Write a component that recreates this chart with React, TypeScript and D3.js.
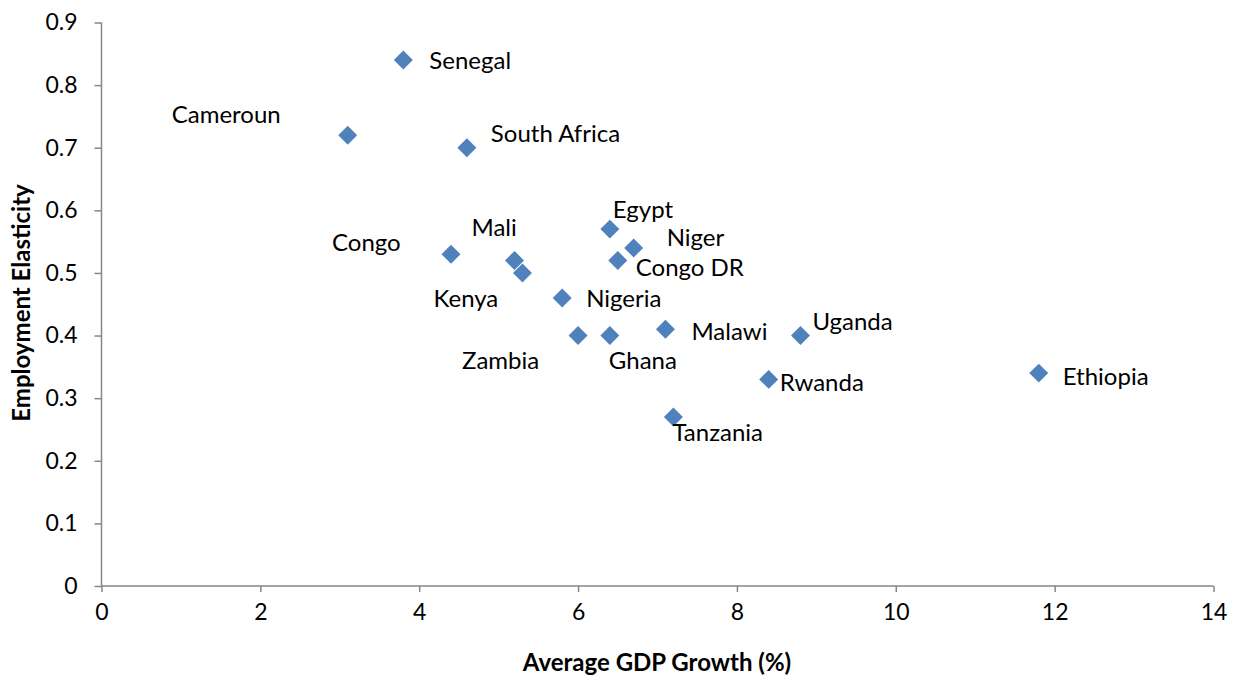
import React, { useEffect, useRef } from 'react'
import * as d3 from 'd3'

// data
const countries = ['Senegal', 'Cameroun', 'South Africa', 'Congo', 'Mali', 'Kenya', 'Nigeria', 'Zambia', 'Ghana', 'Egypt', 'Niger', 'Congo DR', 'Malawi', 'Uganda', 'Rwanda', 'Tanzania', 'Ethiopia']
const gdpGrowth = [3.8, 3.1, 4.6, 4.4, 5.2, 5.3, 5.8, 6.0, 6.4, 6.4, 6.7, 6.5, 7.1, 8.8, 8.4, 7.2, 11.8]
const elasticity = [0.84, 0.72, 0.70, 0.53, 0.52, 0.50, 0.46, 0.40, 0.40, 0.57, 0.54, 0.52, 0.41, 0.40, 0.33, 0.27, 0.34]
// label offsets from the marker (px)
const labelDx = [26, -176, 24, -119, -43, -89, 24, -116, -1, 3, 33, 18, 26, 12, 11, -1, 24]
const labelDy = [-1, -22, -15, -13, -34, 25, 0, 24, 24, -21, -11, 6, 1, -15, 2, 15, 2]

const xTicks = [0, 2, 4, 6, 8, 10, 12, 14]
const yTicks = [0, 0.1, 0.2, 0.3, 0.4, 0.5, 0.6, 0.7, 0.8, 0.9]

const FONT = 'Lato, "Open Sans", sans-serif'

export default function App() {
    const ref = useRef<SVGSVGElement>(null)

    useEffect(() => {
        const svg = d3.select(ref.current)
        svg.selectAll('*').remove()

        const margin = { left: 101.5, right: 29.5, top: 22.5, bottom: 91 }
        const width = 1243
        const height = 677

        const x = d3.scaleLinear().domain([0, 14]).range([margin.left, width - margin.right])
        const y = d3.scaleLinear().domain([0, 0.9]).range([height - margin.bottom, margin.top])

        const axisColor = '#868686'

        const gx = svg.append('g')
            .attr('transform', `translate(0,${y(0)})`)
            .call(d3.axisBottom(x).tickValues(xTicks).tickSize(6).tickPadding(12).tickFormat(d3.format('d')))
        const gy = svg.append('g')
            .attr('transform', `translate(${x(0)},0)`)
            .call(d3.axisLeft(y).tickValues(yTicks).tickSize(7).tickPadding(17).tickFormat(d => d === 0 ? '0' : d3.format('.1f')(d as number)))

        for (const g of [gx, gy]) {
            g.select('.domain').attr('stroke', axisColor).attr('stroke-width', 1.5)
            g.selectAll('.tick line').attr('stroke', axisColor).attr('stroke-width', 1.5)
            g.selectAll('.tick text')
                .attr('fill', '#000')
                .style('font-family', FONT)
                .style('font-size', '23px')
        }
        gy.select('.domain').attr('d', `M0,${y(0)}V${y(0.9)}`)
        gx.select('.domain').attr('d', `M${x(0)},0H${x(14)}`)

        const symbol = d3.symbol().type(d3.symbolSquare).size(180)

        const pts = countries.map((c, i) => ({ name: c, gx: gdpGrowth[i], el: elasticity[i], dx: labelDx[i], dy: labelDy[i] }))

        svg.append('g').selectAll('path')
            .data(pts)
            .enter()
            .append('path')
            .attr('d', symbol)
            .attr('transform', d => `translate(${x(d.gx)},${y(d.el)}) rotate(45)`)
            .attr('fill', '#4F81BD')

        svg.append('g').selectAll('text')
            .data(pts)
            .enter()
            .append('text')
            .attr('x', d => x(d.gx) + d.dx)
            .attr('y', d => y(d.el) + d.dy)
            .attr('dominant-baseline', 'central')
            .style('font-family', FONT)
            .style('font-size', '24px')
            .text(d => d.name)

        svg.append('text')
            .attr('x', 657)
            .attr('y', 661)
            .attr('text-anchor', 'middle')
            .attr('dominant-baseline', 'central')
            .style('font-family', FONT)
            .style('font-size', '24px')
            .style('font-weight', 'bold')
            .text('Average GDP Growth (%)')

        svg.append('text')
            .attr('transform', 'translate(20,303) rotate(-90)')
            .attr('text-anchor', 'middle')
            .attr('dominant-baseline', 'central')
            .style('font-family', FONT)
            .style('font-size', '24px')
            .style('font-weight', 'bold')
            .text('Employment Elasticity')
    }, [])

    return (
        <svg ref={ref} width={1243} height={677}
            style={{ position: 'absolute', left: 0, top: 0, background: '#fff' }} />
    )
}
